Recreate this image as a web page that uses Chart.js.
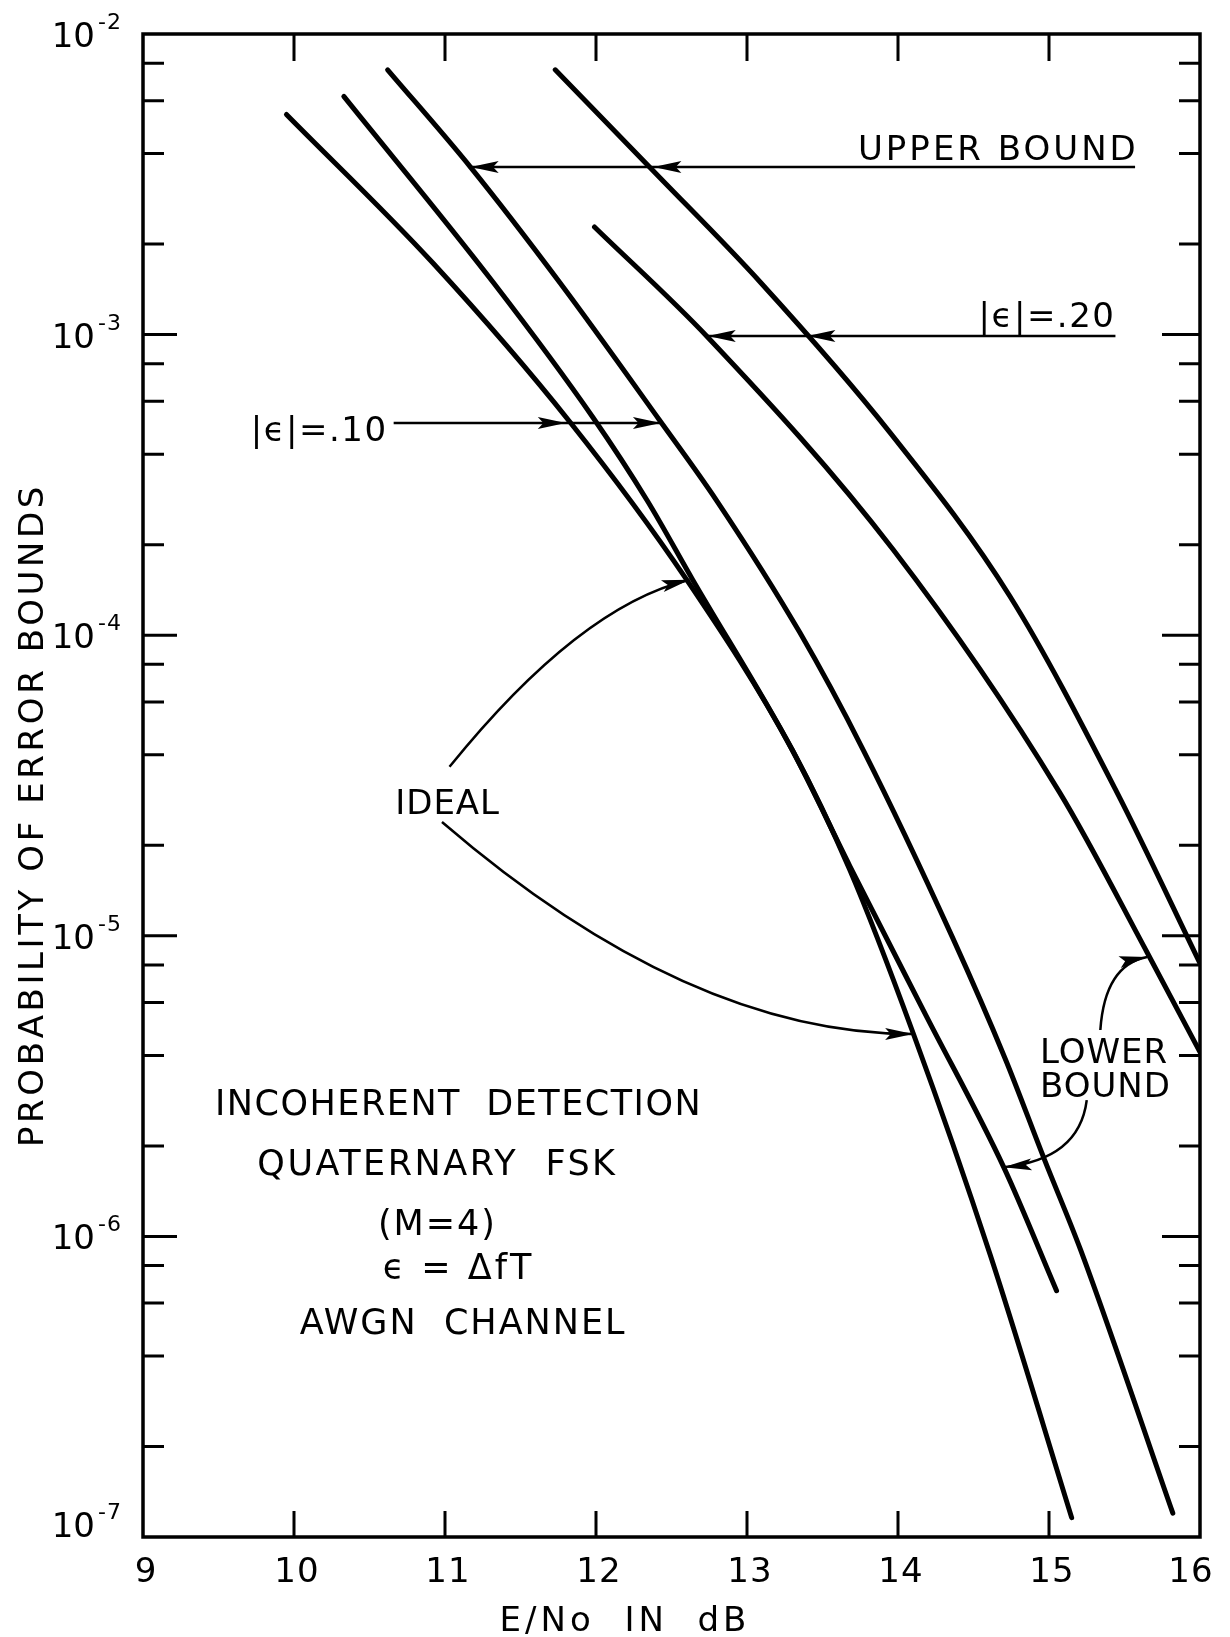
<!DOCTYPE html>
<html>
<head>
<meta charset="utf-8">
<script src="https://cdn.jsdelivr.net/npm/chart.js@4.4.0/dist/chart.umd.min.js"></script>
<style>
  html, body { margin: 0; padding: 0; background: #fff; }
  #wrap { width: 1230px; height: 1637px; }
</style>
</head>
<body>
<div id="wrap"><canvas id="chart" width="1230" height="1637"></canvas></div>
<script>
// values: E/No in dB -> probability of error
const idealX = [9.95, 10.92, 11.83, 12.60, 13.30, 13.68, 14.10, 14.61, 15.15];
const idealY = [5.4e-3, 1.73e-3, 5.1e-4, 1.53e-4, 4.15e-5, 1.66e-5, 4.75e-6, 8.7e-7, 1.16e-7];

const eps10LowX = [10.33, 11.32, 11.98, 12.34, 12.64, 13.30, 13.68, 14.18, 14.70, 15.05];
const eps10LowY = [6.2e-3, 1.49e-3, 5.3e-4, 2.8e-4, 1.53e-4, 4.15e-5, 1.71e-5, 5.5e-6, 1.7e-6, 6.6e-7];

const eps10UpX = [10.62, 11.17, 11.76, 12.42, 12.80, 13.35, 13.77, 14.36, 14.71, 14.97, 15.21, 15.82];
const eps10UpY = [7.6e-3, 3.6e-3, 1.49e-3, 5.2e-4, 2.8e-4, 1.02e-4, 4.15e-5, 9.9e-6, 3.9e-6, 1.8e-6, 9.0e-7, 1.2e-7];

const eps20UpX = [11.73, 12.38, 13.09, 13.95, 14.74, 15.45, 16.0];
const eps20UpY = [7.6e-3, 3.5e-3, 1.49e-3, 4.7e-4, 1.35e-4, 3.0e-5, 8.1e-6];

const eps20LowX = [11.99, 12.74, 13.97, 15.07, 15.65, 16.0];
const eps20LowY = [2.28e-3, 9.8e-4, 1.92e-4, 3.0e-5, 8.8e-6, 4.1e-6];

const xTicks = [9, 10, 11, 12, 13, 14, 15, 16];
const yDecades = [-2, -3, -4, -5, -6, -7];
const yMinor = [2, 4, 6, 8];

const FONT = '"DejaVu Sans", sans-serif';

function pts(xs, ys) {
    return xs.map((v, i) => ({ x: v, y: ys[i] }));
}

function text(ctx, s, x, y, size, align, spacing) {
    ctx.font = size + 'px ' + FONT;
    ctx.letterSpacing = (spacing || 0) + 'px';
    ctx.textAlign = align;
    ctx.textBaseline = 'alphabetic';
    ctx.fillText(s, x, y);
}

function head(ctx, fx, fy, tx, ty) {
    const ang = Math.atan2(ty - fy, tx - fx);
    const len = 28, half = 6;
    ctx.save();
    ctx.translate(tx, ty);
    ctx.rotate(ang);
    ctx.beginPath();
    ctx.moveTo(0, 0);
    ctx.lineTo(-len, -half);
    ctx.lineTo(-len * 0.8, 0);
    ctx.lineTo(-len, half);
    ctx.closePath();
    ctx.fill();
    ctx.restore();
}

const decor = {
    id: 'decor',
    afterDraw(chart) {
        const ctx = chart.ctx;
        const a = chart.chartArea;
        const sx = chart.scales.x, sy = chart.scales.y;
        const P = (x, y) => [sx.getPixelForValue(x), sy.getPixelForValue(y)];

        ctx.save();
        ctx.strokeStyle = '#000';
        ctx.fillStyle = '#000';
        ctx.lineCap = 'butt';

        // frame
        ctx.lineWidth = 3.5;
        ctx.strokeRect(a.left, a.top, a.right - a.left, a.bottom - a.top);

        // x ticks, inward at top and bottom
        ctx.lineWidth = 3;
        xTicks.forEach(v => {
            const p = sx.getPixelForValue(v);
            if (v > 9 && v < 16) {
                ctx.beginPath();
                ctx.moveTo(p, a.bottom); ctx.lineTo(p, a.bottom - 26);
                ctx.moveTo(p, a.top); ctx.lineTo(p, a.top + 27);
                ctx.stroke();
            }
            const nudge = v === 16 ? -9 : 3;
            text(ctx, String(v), p + nudge, a.bottom + 45, 34, 'center', 1);
        });

        // y ticks, inward on both sides
        yDecades.forEach(d => {
            const p = sy.getPixelForValue(Math.pow(10, d));
            if (d < -2 && d > -7) {
                ctx.beginPath();
                ctx.moveTo(a.left, p); ctx.lineTo(a.left + 34, p);
                ctx.moveTo(a.right, p); ctx.lineTo(a.right - 38, p);
                ctx.stroke();
            }
            if (d > -7) {
                yMinor.forEach(m => {
                    const q = sy.getPixelForValue(m * Math.pow(10, d - 1));
                    ctx.beginPath();
                    ctx.moveTo(a.left, q); ctx.lineTo(a.left + 21, q);
                    ctx.moveTo(a.right, q); ctx.lineTo(a.right - 21, q);
                    ctx.stroke();
                });
            }
            const shift = d === -7 ? -13 : 0;
            text(ctx, '10', a.left - 48, p + 13 + shift, 34, 'right', 0);
            text(ctx, '-' + String(-d), a.left - 45, p - 5 + shift, 22, 'left', 1);
        });

        // axis titles
        text(ctx, 'E/No  IN  dB', 625, 1631, 34, 'center', 4);
        ctx.save();
        ctx.translate(43, 815);
        ctx.rotate(-Math.PI / 2);
        text(ctx, 'PROBABILITY OF ERROR BOUNDS', 0, 0, 34, 'center', 3.6);
        ctx.restore();

        // straight label arrows
        ctx.lineWidth = 2.5;
        const hline = (x0, x1, y) => {
            const p0 = P(x0, y), p1 = P(x1, y);
            ctx.beginPath(); ctx.moveTo(p0[0], p0[1]); ctx.lineTo(p1[0], p1[1]); ctx.stroke();
        };
        // upper bound
        hline(11.17, 15.57, 3.61e-3);
        [11.17, 12.38].forEach(x => {
            const q = P(x, 3.61e-3);
            head(ctx, q[0] + 40, q[1], q[0], q[1]);
        });
        let t = P(13.735, 3.81e-3);
        text(ctx, 'UPPER BOUND', t[0], t[1], 34, 'left', 3);

        // |e| = .20
        hline(12.74, 15.44, 9.9e-4);
        [12.74, 13.40].forEach(x => {
            const q = P(x, 9.9e-4);
            head(ctx, q[0] + 40, q[1], q[0], q[1]);
        });
        t = P(15.44, 1.06e-3);
        text(ctx, '|\u03F5|=.20', t[0], t[1], 34, 'right', 1.5);

        // |e| = .10
        hline(10.66, 12.43, 5.08e-4);
        [11.80, 12.43].forEach(x => {
            const q = P(x, 5.08e-4);
            head(ctx, q[0] - 40, q[1], q[0], q[1]);
        });
        t = P(10.62, 4.43e-4);
        text(ctx, '|\u03F5|=.10', t[0], t[1], 34, 'right', 1.5);

        // curved arrows: start, control, end in data units
        const curve = (s, c, e) => {
            const p0 = P(s[0], s[1]), pc = P(c[0], c[1]), p1 = P(e[0], e[1]);
            ctx.beginPath();
            ctx.moveTo(p0[0], p0[1]);
            ctx.quadraticCurveTo(pc[0], pc[1], p1[0], p1[1]);
            ctx.stroke();
            head(ctx, pc[0], pc[1], p1[0], p1[1]);
        };
        curve([11.03, 3.65e-5], [11.89, 1.25e-4], [12.62, 1.53e-4]);
        curve([10.98, 2.39e-5], [12.61, 4.71e-6], [14.10, 4.71e-6]);
        curve([15.34, 4.86e-6], [15.37, 8.0e-6], [15.65, 8.5e-6]);
        curve([15.25, 2.84e-6], [15.2, 1.8e-6], [14.70, 1.70e-6]);

        t = P(10.67, 2.54e-5);
        text(ctx, 'IDEAL', t[0], t[1], 34, 'left', 1);
        t = P(14.94, 3.78e-6);
        text(ctx, 'LOWER', t[0], t[1], 34, 'left', 1);
        t = P(14.94, 2.91e-6);
        text(ctx, 'BOUND', t[0], t[1], 34, 'left', 1);

        // description block
        t = P(11.09, 2.54e-6);
        text(ctx, 'INCOHERENT  DETECTION', t[0], t[1], 35, 'center', 1.5);
        t = P(10.95, 1.60e-6);
        text(ctx, 'QUATERNARY  FSK', t[0], t[1], 35, 'center', 2.5);
        t = P(10.95, 1.01e-6);
        text(ctx, '(M=4)', t[0], t[1], 35, 'center', 2);
        t = P(11.09, 7.21e-7);
        text(ctx, '\u03F5 = \u0394fT', t[0], t[1], 35, 'center', 3);
        t = P(11.12, 4.73e-7);
        text(ctx, 'AWGN  CHANNEL', t[0], t[1], 35, 'center', 2);

        ctx.restore();
    }
};

const lineStyle = {
    borderColor: '#000',
    borderWidth: 5,
    pointRadius: 0,
    fill: false,
    cubicInterpolationMode: 'monotone',
    borderCapStyle: 'round'
};

new Chart(document.getElementById('chart'), {
    type: 'line',
    data: {
        datasets: [
            Object.assign({ label: 'Ideal', data: pts(idealX, idealY) }, lineStyle),
            Object.assign({ label: '|e|=.10 lower bound', data: pts(eps10LowX, eps10LowY) }, lineStyle),
            Object.assign({ label: '|e|=.10 upper bound', data: pts(eps10UpX, eps10UpY) }, lineStyle),
            Object.assign({ label: '|e|=.20 upper bound', data: pts(eps20UpX, eps20UpY) }, lineStyle),
            Object.assign({ label: '|e|=.20 lower bound', data: pts(eps20LowX, eps20LowY) }, lineStyle)
        ]
    },
    options: {
        responsive: false,
        animation: false,
        devicePixelRatio: 1,
        layout: { padding: { left: 143, right: 30, top: 34, bottom: 100 } },
        plugins: { legend: { display: false }, tooltip: { enabled: false } },
        scales: {
            x: { type: 'linear', min: 9, max: 16, display: false },
            y: { type: 'logarithmic', min: 1e-7, max: 1e-2, display: false }
        }
    },
    plugins: [decor]
});
</script>
</body>
</html>
